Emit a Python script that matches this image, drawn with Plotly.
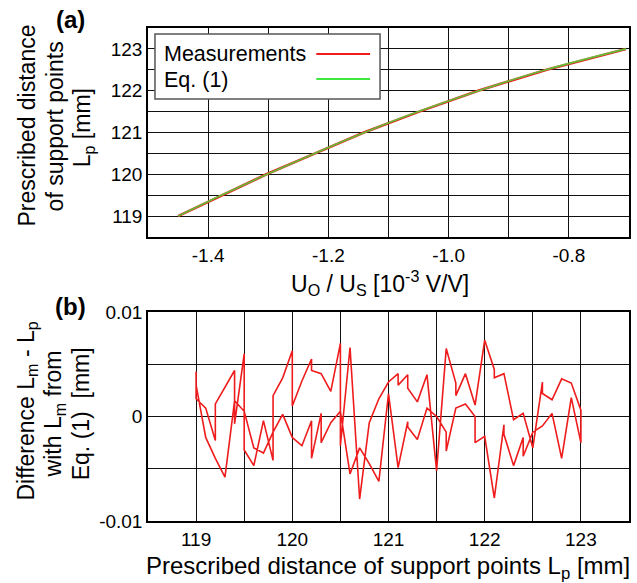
import plotly.graph_objects as go

# ---- panel (a): prescribed distance vs. normalized bridge output ----
lp_top = [119.0, 119.5, 120.0, 120.5, 121.0, 121.5, 122.0, 122.5, 123.0]
u_meas = [-1.450, -1.377, -1.303, -1.222, -1.141, -1.049, -0.951, -0.837, -0.705]
u_eq = [-1.450, -1.378, -1.302, -1.223, -1.140, -1.050, -0.950, -0.838, -0.705]

top_xticks = [-1.4, -1.2, -1.0, -0.8]
top_xticktext = ["-1.4", "-1.2", "-1.0", "-0.8"]
top_xgrid = [-1.5, -1.4, -1.3, -1.2, -1.1, -1.0, -0.9, -0.8, -0.7]
top_yticks = [119, 120, 121, 122, 123]
top_ygrid = [118.5, 119, 119.5, 120, 120.5, 121, 121.5, 122, 122.5, 123, 123.5]

# ---- panel (b): residual Lm - Lp, upward sweep then downward sweep ----
lp_up = [119.0, 119.0, 119.1, 119.2, 119.2, 119.3, 119.4, 119.4, 119.5, 119.5,
         119.6, 119.7, 119.8, 119.8, 119.9, 120.0, 120.0, 120.1, 120.2, 120.2,
         120.3, 120.4, 120.5, 120.5, 120.6, 120.7, 120.8, 120.9, 121.0, 121.1,
         121.1, 121.2, 121.2, 121.3, 121.4, 121.5, 121.6, 121.7, 121.7, 121.8,
         121.9, 122.0, 122.1, 122.1, 122.2, 122.3, 122.4, 122.5, 122.6, 122.6,
         122.7, 122.8, 122.9, 123.0]
diff_up = [0.0043, 0.0017, 0.0008, -0.0023, 0.0012, 0.0028, 0.0044, -0.0007, 0.0060, -0.0032,
           -0.0047, -0.0004, -0.0042, 0.0020, 0.0037, 0.0063, 0.0010, 0.0034, 0.0055, 0.0044,
           0.0041, 0.0024, 0.0070, -0.0028, 0.0066, -0.0079, -0.0006, 0.0017, 0.0033, 0.0041,
           0.0030, 0.0040, 0.0027, 0.0014, 0.0040, -0.0052, 0.0065, 0.0032, 0.0020, 0.0041,
           0.0011, 0.0073, 0.0045, 0.0037, 0.0041, -0.0003, 0.0003, -0.0030, 0.0033, 0.0022,
           0.0016, 0.0036, 0.0032, 0.0006]
lp_down = [123.0, 122.9, 122.8, 122.7, 122.6, 122.5, 122.4, 122.4, 122.3, 122.2,
           122.2, 122.1, 122.0, 121.9, 121.9, 121.8, 121.7, 121.6, 121.6, 121.5,
           121.4, 121.3, 121.2, 121.2, 121.1, 121.0, 120.9, 120.8, 120.7, 120.6,
           120.5, 120.4, 120.3, 120.3, 120.2, 120.2, 120.1, 120.0, 119.9, 119.8,
           119.7, 119.6, 119.5, 119.4, 119.3, 119.2, 119.1, 119.0]
diff_down = [-0.0025, 0.0018, -0.0040, 0.0003, -0.0009, -0.0015, -0.0038, -0.0020, -0.0047, -0.0017,
             -0.0008, -0.0078, -0.0019, -0.0025, 0.0000, 0.0012, 0.0008, -0.0033, -0.0015, 0.0000,
             0.0008, -0.0022, -0.0010, -0.0005, -0.0049, 0.0022, -0.0062, -0.0045, -0.0030, -0.0055,
             0.0005, -0.0006, -0.0025, 0.0003, -0.0040, -0.0004, -0.0028, -0.0020, 0.0002, -0.0015,
             -0.0035, -0.0030, 0.0005, 0.0015, -0.0058, -0.0040, -0.0020, 0.0030]

bot_xticks = [119, 120, 121, 122, 123]
bot_xgrid = [118.5, 119, 119.5, 120, 120.5, 121, 121.5, 122, 122.5, 123, 123.5]
bot_yticks = [-0.01, 0, 0.01]
bot_yticktext = ["-0.01", "0", "0.01"]
bot_ygrid = [-0.01, -0.005, 0, 0.005, 0.01]

RED = "#ee1c1c"
GREEN = "#3ee83e"
FONT = "Liberation Sans, Arial, Helvetica, sans-serif"

W, H = 637, 583
ML, MR, MT, MB = 148, 6, 28, 62
PW, PH = W - ML - MR, H - MT - MB


def px(x):
    return (x - ML) / PW


def py(y):
    return (H - MB - y) / PH


fig = go.Figure()

fig.add_trace(go.Scatter(x=u_meas, y=lp_top, mode="lines", xaxis="x", yaxis="y",
                         line=dict(color=RED, width=2.6), showlegend=False))
fig.add_trace(go.Scatter(x=u_eq, y=lp_top, mode="lines", xaxis="x", yaxis="y",
                         line=dict(color=GREEN, width=1.6, shape="spline"),
                         opacity=0.8, showlegend=False))

fig.add_trace(go.Scatter(x=lp_up + lp_down, y=diff_up + diff_down, mode="lines",
                         xaxis="x2", yaxis="y2",
                         line=dict(color=RED, width=1.6), showlegend=False))

grid = dict(color="#111", width=1.2)
axis_common = dict(showline=True, linecolor="black", linewidth=1.5, mirror=True,
                   ticks="", showgrid=True, gridcolor=grid["color"], gridwidth=grid["width"],
                   zeroline=False, tickfont=dict(family=FONT, size=19, color="black"))

top_dom = [py(237), 1.0]
bot_dom = [0.0, py(312)]

fig.update_layout(
    width=W, height=H,
    margin=dict(l=ML, r=MR, t=MT, b=MB),
    paper_bgcolor="white", plot_bgcolor="white",
    font=dict(family=FONT, color="black"),
    xaxis=dict(axis_common, domain=[0, 1], anchor="y", range=[-1.5, -0.7],
               tickvals=top_xticks, ticktext=top_xticktext,
               minor=dict(tickvals=top_xgrid, showgrid=True, gridcolor=grid["color"],
                          gridwidth=grid["width"], ticks="")),
    yaxis=dict(axis_common, domain=top_dom, anchor="x", range=[118.5, 123.5],
               tickvals=top_yticks,
               minor=dict(tickvals=top_ygrid, showgrid=True, gridcolor=grid["color"],
                          gridwidth=grid["width"], ticks="")),
    xaxis2=dict(axis_common, domain=[0, 1], anchor="y2", range=[118.5, 123.5],
                tickvals=bot_xticks,
                minor=dict(tickvals=bot_xgrid, showgrid=True, gridcolor=grid["color"],
                           gridwidth=grid["width"], ticks="")),
    yaxis2=dict(axis_common, domain=bot_dom, anchor="x2", range=[-0.01, 0.01],
                tickvals=bot_yticks, ticktext=bot_yticktext,
                minor=dict(tickvals=bot_ygrid, showgrid=True, gridcolor=grid["color"],
                           gridwidth=grid["width"], ticks="")),
)

# legend box with labels on the left and line samples on the right
shapes = [
    dict(type="rect", xref="paper", yref="paper", x0=px(155), x1=px(381), y0=py(99), y1=py(34),
         line=dict(color="#555", width=1.5), fillcolor="white", layer="above"),
    dict(type="line", xref="paper", yref="paper", x0=px(317), x1=px(371), y0=py(54), y1=py(54),
         line=dict(color=RED, width=2), layer="above"),
    dict(type="line", xref="paper", yref="paper", x0=px(317), x1=px(371), y0=py(79), y1=py(79),
         line=dict(color=GREEN, width=2), layer="above"),
]
fig.update_layout(shapes=shapes)


def note(text, x, y, size=23, angle=0, xanchor="center", bold=False):
    fig.add_annotation(text=f"<b>{text}</b>" if bold else text, x=px(x), y=py(y),
                       xref="paper", yref="paper", showarrow=False, textangle=angle,
                       xanchor=xanchor, yanchor="middle",
                       font=dict(family=FONT, size=size, color="black"))


note("Measurements", 162, 54, size=21.5, xanchor="left")
note("Eq. (1)", 162, 80, size=21.5, xanchor="left")

note("(a)", 70, 20, size=24, bold=True)
note("(b)", 70, 306, size=24, bold=True)

# y-axis titles, one rotated line each
note("Prescribed distance", 26, 126, angle=-90)
note("of support points", 55, 126, angle=-90)
note("L<sub>p</sub> [mm]", 83, 128, angle=-90)

note("Difference L<sub>m</sub> - L<sub>p</sub>", 26, 411, angle=-90)
note("with L<sub>m</sub> from", 54, 414, angle=-90)
note("Eq. (1)  [mm]", 81, 414, angle=-90)

note("U<sub>O</sub> / U<sub>S</sub> [10<sup>-3</sup> V/V]", 381, 283)
note("Prescribed distance of support points L<sub>p</sub> [mm]", 389, 567, size=24)

fig.write_html("out.html")
